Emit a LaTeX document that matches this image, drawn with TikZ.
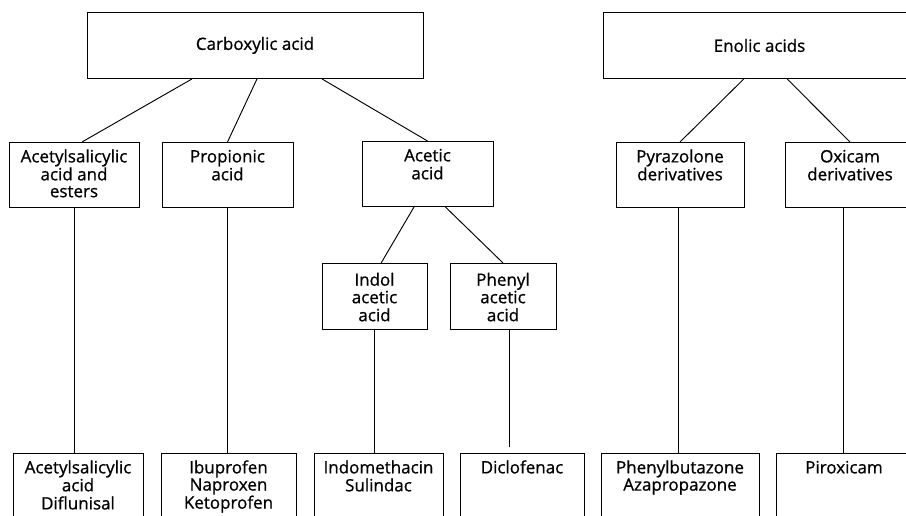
\documentclass[tikz,border=0pt]{standalone}
\usepackage{fontspec}
\setmainfont[FakeBold=0.8]{Open Sans}
\usepackage{tikz}
\usetikzlibrary{calc}
\newcommand{\toplines}[1]{\begin{tabular}[t]{@{}c@{}}#1\end{tabular}}

\begin{document}
\begin{tikzpicture}[
  head/.style={draw, line width=0.8pt, anchor=north, minimum height=1.98cm,
    font=\fontsize{14.5}{14.4}\selectfont},
  box/.style={draw, line width=0.8pt, anchor=north, inner xsep=2pt,
    inner ysep=0pt, text height=17pt, text depth=38.3pt,
    font=\fontsize{14.5}{14.4}\selectfont},
  link/.style={line width=0.8pt}
]
\clip (0,0) rectangle (27.18,15.48);

% Headings
\node[head, minimum width=10.08cm] (carb) at (7.65,15.12) {Carboxylic acid};
\node[head, minimum width=9.39cm] (enol) at (22.785,15.12) {Enolic acids};

% Groups
\node[box, minimum width=3.9cm] (acs) at (2.22,11.22)
  {\toplines{Acetylsalicylic\\acid and\\esters}};
\node[box, minimum width=3.93cm] (prop) at (6.825,11.22)
  {\toplines{Propionic\\acid}};
\node[box, minimum width=3.93cm] (acet) at (12.825,11.25)
  {\toplines{Acetic\\acid}};
\node[box, minimum width=3.84cm] (pyr) at (20.4,11.22)
  {\toplines{Pyrazolone\\derivatives}};
\node[box, minimum width=3.9cm] (oxi) at (25.5,11.22)
  {\toplines{Oxicam\\derivatives}};

% Acetic acid subgroups
\node[box, minimum width=3.15cm, text height=19pt, text depth=37pt] (indol)
  at (11.235,7.59) {\toplines{Indol\\acetic\\acid}};
\node[box, minimum width=3.18cm, text height=19pt, text depth=37pt] (phen)
  at (15.09,7.59) {\toplines{Phenyl\\acetic\\acid}};

% Drugs
\node[box, minimum width=3.9cm] (acsd) at (2.34,1.89)
  {\toplines{Acetylsalicylic\\acid\\Diflunisal}};
\node[box, minimum width=4.05cm] (ibu) at (6.855,1.89)
  {\toplines{Ibuprofen\\Naproxen\\Ketoprofen}};
\node[box, minimum width=3.87cm] (indo) at (11.355,1.89)
  {\toplines{Indomethacin\\Sulindac}};
\node[box, minimum width=3.72cm] (dicl) at (15.66,1.89) {Diclofenac};
\node[box, minimum width=4.74cm] (phb) at (20.4,1.89)
  {\toplines{Phenylbutazone\\Azapropazone}};
\node[box, minimum width=4.08cm] (pirox) at (25.32,1.89) {Piroxicam};

% Links from the headings
\draw[link] ([xshift=-1.89cm]carb.south) -- ([xshift=0.24cm]acs.north);
\draw[link] ([xshift=0.06cm]carb.south) -- (prop.north);
\draw[link] ([xshift=2.01cm]carb.south) -- (acet.north);
\draw[link] ([xshift=-0.47cm]enol.south) -- (pyr.north);
\draw[link] ([xshift=0.83cm]enol.south) -- (oxi.north);

% Links from acetic acid
\draw[link] ([xshift=-0.4cm]acet.south) -- ([xshift=0.2cm]indol.north);
\draw[link] ([xshift=0.53cm]acet.south) -- (phen.north);

% Links down to the drugs
\draw[link] (acs.south) -- (acs.south |- acsd.north);
\draw[link] (prop.south) -- (prop.south |- ibu.north);
\draw[link] (indol.south) -- (indol.south |- indo.north);
\draw[link] ([xshift=0.18cm]phen.south) -- ([xshift=0.18cm,yshift=0.18cm]phen.south |- dicl.north);
\draw[link] ([xshift=-0.06cm]pyr.south) -- ([xshift=-0.06cm]pyr.south |- phb.north);
\draw[link] ([xshift=-0.21cm]oxi.south) -- ([xshift=-0.21cm]oxi.south |- pirox.north);

\end{tikzpicture}
\end{document}
